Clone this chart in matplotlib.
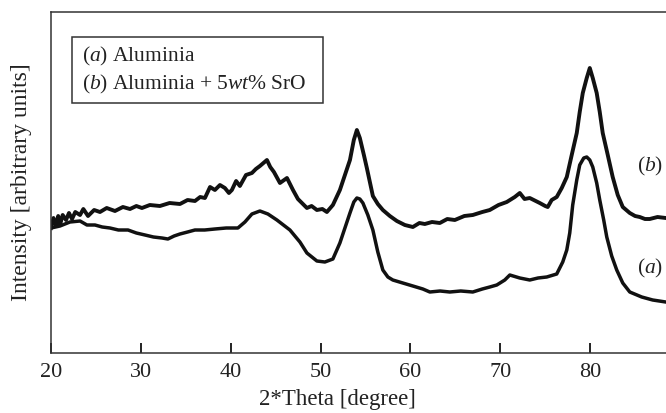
import matplotlib
matplotlib.use("Agg")
import matplotlib.pyplot as plt
from matplotlib.patches import Rectangle

plt.rcParams['font.family'] = ['Liberation Serif', 'DejaVu Serif']
plt.rcParams['mathtext.fontset'] = 'custom'
plt.rcParams['mathtext.rm'] = 'Liberation Serif'
plt.rcParams['mathtext.it'] = 'Liberation Serif:italic'

# ---- data (intensity in arbitrary units) ----
theta_b = [20.00, 20.28, 20.56, 20.80, 21.00, 21.30, 21.67, 22.00, 22.34, 22.70, 23.23, 23.60, 24.12,
           24.80, 25.45, 26.20, 27.12, 28.00, 28.79, 29.50, 30.12, 31.00, 32.12, 33.20, 34.35, 35.20,
           36.02, 36.60, 37.13, 37.70, 38.24, 38.80, 39.35, 39.80, 40.13, 40.60, 41.02, 41.70, 42.36,
           42.80, 43.25, 44.03, 44.40, 44.81, 45.48, 46.26, 46.93, 47.48, 48.48, 49.00, 49.59, 50.20,
           50.70, 51.37, 52.15, 52.71, 53.27, 53.70, 54.04, 54.37, 54.82, 55.15, 55.82, 56.37, 56.93,
           57.71, 58.49, 59.38, 60.27, 61.00, 61.60, 62.40, 63.27, 64.10, 64.94, 66.00, 66.94, 68.00,
           68.83, 69.80, 70.72, 71.61, 72.17, 72.70, 73.28, 74.39, 75.00, 75.28, 75.72, 76.28, 76.84,
           77.40, 77.95, 78.51, 78.84, 79.18, 79.62, 79.96, 80.29, 80.73, 81.07, 81.40, 81.96, 82.51,
           83.07, 83.63, 84.41, 85.00, 85.52, 86.10, 86.63, 87.50, 88.41]
int_b = [125, 135, 127, 137, 128, 138, 133, 140, 134, 141, 138, 144, 137,
         143, 141, 145, 142, 146, 144, 147, 145, 148, 147, 150, 149, 153,
         152, 156, 155, 166, 163, 168, 165, 160, 163, 172, 167, 178, 180,
         184, 187, 193, 186, 181, 170, 175, 163, 154, 145, 147, 143, 144,
         141, 148, 163, 178, 193, 213, 223, 215, 198, 185, 157, 149, 143,
         137, 132, 128, 126, 130, 129, 131, 130, 134, 133, 137, 138, 141,
         143, 148, 151, 156, 160, 154, 155, 150, 147, 146, 153, 156, 165,
         176, 198, 220, 241, 260, 275, 285, 275, 260, 241, 220, 198, 176,
         158, 146, 140, 137, 136, 134, 134, 136, 135]

theta_a = [20.00, 21.00, 22.11, 23.23, 24.00, 24.89, 25.70, 26.56, 27.50, 28.57, 29.50, 30.46, 31.40,
           32.35, 33.01, 33.70, 34.35, 35.20, 36.02, 37.10, 38.24, 39.50, 40.80, 41.58, 42.36, 43.25,
           44.14, 45.14, 46.59, 47.70, 48.48, 49.59, 50.48, 51.37, 52.15, 52.71, 53.27, 53.70, 54.04,
           54.37, 54.71, 55.26, 55.82, 56.37, 56.93, 57.49, 58.04, 59.15, 60.27, 61.38, 62.16, 63.30,
           64.38, 65.60, 66.94, 68.00, 68.83, 69.61, 70.50, 71.06, 72.17, 73.28, 74.20, 75.17, 76.28,
           76.95, 77.40, 77.73, 78.06, 78.51, 78.84, 79.29, 79.62, 79.96, 80.29, 80.73, 81.07, 81.51,
           81.85, 82.40, 82.96, 83.63, 84.41, 85.74, 86.96, 88.41]
int_a = [125, 127, 131, 132, 128, 128, 126, 125, 123, 123, 120, 118, 116,
         115, 114, 117, 119, 121, 123, 123, 124, 125, 125, 131, 139, 142,
         139, 133, 123, 111, 100, 92, 91, 94, 110, 125, 140, 151, 155,
         154, 150, 138, 123, 101, 83, 76, 73, 70, 67, 64, 61, 62,
         61, 62, 61, 64, 66, 68, 73, 78, 75, 73, 75, 76, 79,
         91, 103, 120, 148, 173, 188, 195, 196, 193, 186, 170, 153, 133,
         116, 97, 83, 70, 61, 56, 53, 51]

xticks = [20, 30, 40, 50, 60, 70, 80]

W, H = 666, 413
fig = plt.figure(figsize=(W / 100, H / 100), dpi=100)
ax = fig.add_axes([51 / W, (H - 353) / H, 629 / W, 341 / H])

ax.plot(theta_b, int_b, color='#111111', lw=2.8, solid_joinstyle='round')
ax.plot(theta_a, int_a, color='#111111', lw=2.5, solid_joinstyle='round')

ax.set_xlim(20, 90)
ax.set_ylim(0, 341)
ax.set_xticks(xticks)
ax.set_yticks([])
ax.tick_params(axis='x', direction='in', length=7.2, width=1.4, labelsize=16,
               pad=7, colors='#222222')
for s in ax.spines.values():
    s.set_color('#333333')
    s.set_linewidth(1.1)

fig.text(22 / W, 1 - 182 / H, 'Intensity [arbitrary units]', fontsize=17, rotation=90,
         ha='center', va='center', color='#222222')
fig.text(337 / W, 1 - 399 / H, '2*Theta [degree]', fontsize=16.5, ha='center', va='center',
         color='#222222')

# legend box
fig.patches.append(Rectangle((72 / W, 1 - 103 / H), 251 / W, 66 / H, transform=fig.transFigure,
                             fill=False, ec='#333333', lw=1.1))
fig.text(82 / W, 1 - 56 / H, r'($\mathit{a}$) Aluminia', fontsize=15.5, va='center', color='#222222')
fig.text(82 / W, 1 - 84 / H, r'($\mathit{b}$) Aluminia + 5$\mathit{wt}$% SrO', fontsize=15.5,
         va='center', color='#222222')

fig.text(637 / W, 1 - 166 / H, r'($\mathit{b}$)', fontsize=15.5, va='center', color='#222222')
fig.text(637 / W, 1 - 268 / H, r'($\mathit{a}$)', fontsize=15.5, va='center', color='#222222')

fig.savefig('out.png', dpi=100)
